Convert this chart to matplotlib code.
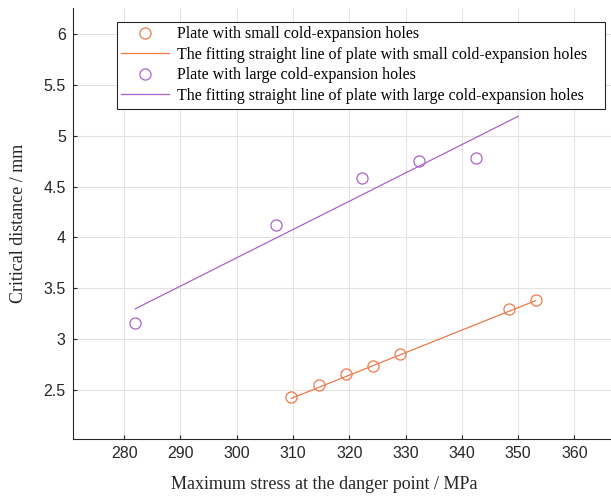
import matplotlib
matplotlib.use('Agg')
import matplotlib.pyplot as plt

# values
small_stress = [309.7, 314.6, 319.4, 324.2, 329.0, 348.4, 353.1]
small_dist = [2.43, 2.55, 2.66, 2.74, 2.86, 3.30, 3.39]
small_fit_x = [309.7, 353.1]
small_fit_y = [2.42, 3.38]

large_stress = [282.0, 307.0, 322.3, 332.4, 342.5]
large_dist = [3.16, 4.12, 4.58, 4.75, 4.78]
large_fit_x = [282.0, 350.0]
large_fit_y = [3.30, 5.19]

x_ticks = [280, 290, 300, 310, 320, 330, 340, 350, 360]
y_ticks = [2.5, 3, 3.5, 4, 4.5, 5, 5.5, 6]
y_ticklabels = ['2.5', '3', '3.5', '4', '4.5', '5', '5.5', '6']

orange = '#EE7A4B'
purple = '#A964C9'
serif = 'Liberation Serif'

fig = plt.figure(figsize=(6.11, 4.97), dpi=100)
ax = fig.add_axes([72.7 / 611, 1 - 439 / 497, 1 - 72.7 / 611, (439 - 8.3) / 497])

ax.plot(small_stress, small_dist, 'o', mfc='none', mec=orange, ms=8, mew=0.9,
        label='Plate with small cold-expansion holes')
ax.plot(small_fit_x, small_fit_y, '-', color=orange, lw=0.9,
        label='The fitting straight line of plate with small cold-expansion holes')
ax.plot(large_stress, large_dist, 'o', mfc='none', mec=purple, ms=8, mew=0.9,
        label='Plate with large cold-expansion holes')
ax.plot(large_fit_x, large_fit_y, '-', color=purple, lw=0.9,
        label='The fitting straight line of plate with large cold-expansion holes')

ax.set_xlim(270.87, 366.5)
ax.set_ylim(2.021, 6.251)
ax.set_xticks(x_ticks)
ax.set_yticks(y_ticks)
ax.set_yticklabels(y_ticklabels)

for s in ['top', 'right']:
    ax.spines[s].set_visible(False)
for s in ['left', 'bottom']:
    ax.spines[s].set_color('#262626')
    ax.spines[s].set_linewidth(0.8)

ax.tick_params(direction='in', length=3, width=0.8, color='#262626',
               labelcolor='#262626', labelsize=11.5, pad=5)
for lab in ax.get_xticklabels() + ax.get_yticklabels():
    lab.set_family('Liberation Sans')

ax.grid(True, color='#e3e3e3', lw=0.8)
ax.set_axisbelow(True)

ax.set_xlabel('Maximum stress at the danger point / MPa', family=serif, fontsize=13, color='#262626')
ax.set_ylabel('Critical distance / mm', family=serif, fontsize=13, color='#262626')
ax.xaxis.set_label_coords((324 - 72.7) / (611 - 72.7), -0.085)
ax.yaxis.set_label_coords(-0.084, 0.5)

# legend box spans x 116.7..605 px, top at 21.7 px
leg_x0 = (116.7 - 72.7) / 538.3
leg_w = (605 - 116.7) / 538.3
leg_top = 1 - (21.7 - 8.3) / 430.7
leg = ax.legend(loc='upper left', bbox_to_anchor=(leg_x0, 0, leg_w, leg_top), mode='expand',
                prop={'family': serif, 'size': 11.5}, frameon=True, fancybox=False,
                framealpha=1, edgecolor='#262626', handlelength=3.0, handletextpad=0.45,
                labelspacing=0.28, borderpad=0.3, borderaxespad=0)
leg.get_frame().set_linewidth(0.8)

fig.savefig('out.png', dpi=100)
